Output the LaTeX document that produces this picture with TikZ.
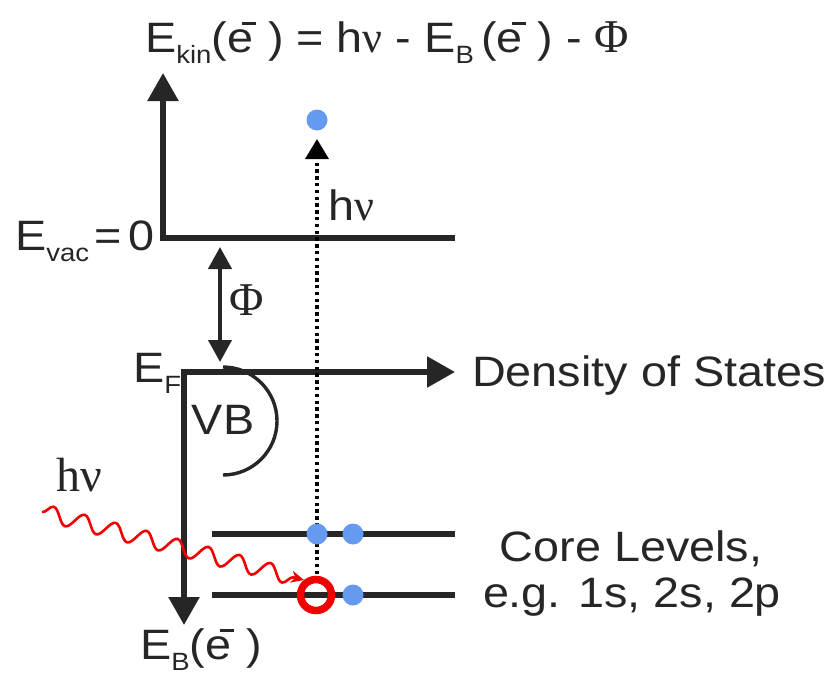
\documentclass[tikz,border=0pt]{standalone}
\usepackage{fontspec}
\setmainfont{Liberation Sans}[FakeStretch=1.1]
\newfontfamily\grk{Liberation Serif}
\usetikzlibrary{arrows.meta,decorations.pathmorphing}
\definecolor{ink}{RGB}{38,38,38}
\definecolor{dotblue}{RGB}{102,153,240}
\definecolor{wavered}{RGB}{240,0,0}
\newcommand{\bigf}{\fontsize{42.5}{48}\selectfont}
\newcommand{\subf}[1]{\raisebox{-11pt}{\fontsize{25}{25}\selectfont #1}}
\newcommand{\elec}{e\kern-11pt\rule[27pt]{14pt}{3.5pt}\kern12pt}
\newcommand{\nuu}{{\grk\fontsize{44}{48}\selectfont ν}}
\newcommand{\Phii}{{\grk\fontsize{47}{48}\selectfont Φ}}
\begin{document}
\begin{tikzpicture}[x=1pt,y=-1pt,
  lbl/.style={inner sep=0pt,text=ink,font=\bigf},
  axis/.style={draw=ink,line width=5.5pt,line join=miter},
  bigtip/.style={-{Triangle[length=28pt,width=30pt]}},
  level/.style={draw=ink,line width=5.5pt},
  edot/.style={circle,fill=dotblue,minimum size=21pt,inner sep=0pt},
  hole/.style={circle,draw=wavered,line width=7.5pt,minimum size=31pt,inner sep=0pt}]
\useasboundingbox (0,0) rectangle (830,675);

% text labels
\node[lbl,anchor=base west] (ekin) at (145,52) {E\subf{kin}(\elec) = h\nuu\ - E\subf{B}\,(\elec) - \Phii};
\node[lbl,anchor=base west] (evac) at (15,250) {E\subf{vac}\kern5pt=\kern7pt0};
\node[lbl,anchor=center] (phi) at (247,300) {\Phii};
\node[lbl,anchor=base west] (hnu1) at (328,220) {h\nuu};
\node[lbl,anchor=base west] (ef) at (133,382) {E\subf{F}};
\node[lbl,anchor=base west] (dos) at (472,386) {Density of States};
\node[lbl,anchor=center] (vb) at (223,420) {VB};
\node[lbl,anchor=base west,font=\grk\fontsize{48}{50}\selectfont] (hnu2) at (56,491) {hν};
\node[lbl,anchor=base] (core) at (631,561) {Core Levels,};
\node[lbl,anchor=base] (eg) at (632,607) {e.g. 1s, 2s, 2p};
\node[lbl,anchor=base west] (eb) at (140,659) {E\subf{B}(\elec)};

% coordinates
\coordinate (kTop) at (163,73);
\coordinate (vCorner) at (163,238);
\coordinate (vEnd) at (455,238);
\coordinate (fCorner) at (184,372);
\coordinate (fEnd) at (455,372);
\coordinate (bEnd) at (184,625);
\coordinate (phiTop) at (220,247);
\coordinate (phiBot) at (220,362);
\coordinate (c1a) at (212,534);
\coordinate (c1b) at (455,534);
\coordinate (c2a) at (212,595);
\coordinate (c2b) at (455,595);
\coordinate (dotStart) at (317,574);
\coordinate (dotEnd) at (317,139);
\coordinate (waveStart) at (42,512);
\coordinate (waveEnd) at (304,580);

% axes
\draw[axis,bigtip] (vEnd) -- (vCorner) -- (kTop);
\draw[axis,{Triangle[length=28pt,width=30pt]}-{Triangle[length=28pt,width=30pt]}] (fEnd) -- (fCorner) -- (bEnd);
\draw[draw=ink,line width=4.2pt,{Triangle[length=22pt,width=23pt]}-{Triangle[length=22pt,width=23pt]}] (phiTop) -- (phiBot);

% VB arc
\draw[draw=ink,line width=3.4pt] (223,367) arc[start angle=-90,end angle=90,radius=54];

% core levels
\draw[level] (c1a) -- (c1b);
\draw[level] (c2a) -- (c2b);

% excitation
\draw[draw=black,line width=3.6pt,dash pattern=on 3.4pt off 3.4pt,-{Triangle[length=20pt,width=23pt]}] (dotStart) -- (dotEnd);

% electrons
\node[edot] (eout) at (317,120) {};
\node[edot] (e1) at (317,534) {};
\node[edot] (e2) at (353,534) {};
\node[edot] (e3) at (353,595) {};
\node[hole] (h) at (316,595) {};

% photon
\draw[wavered,line width=2.6pt,decorate,decoration={snake,segment length=32pt,amplitude=8pt,post length=10pt},-{Stealth[length=13pt,width=12pt]}] (waveStart) -- (waveEnd);
\end{tikzpicture}
\end{document}
